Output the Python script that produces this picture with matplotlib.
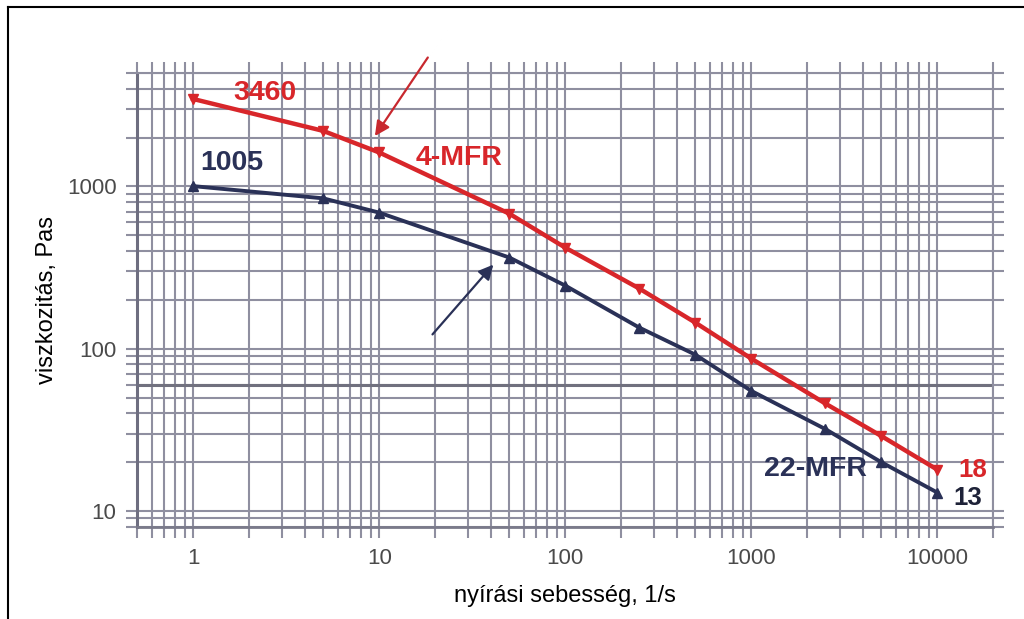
import matplotlib.pyplot as plt
from matplotlib.lines import Line2D
from matplotlib.ticker import LogLocator, NullFormatter, FixedLocator, FixedFormatter

# nyírási sebesség (1/s)
shear_rate = [1, 5, 10, 50, 100, 250, 500, 1000, 2500, 5000, 10000]
# viszkozitás (Pas)
visc_4mfr = [3460, 2200, 1620, 680, 420, 235, 145, 87, 46, 29, 18]
visc_22mfr = [1005, 845, 690, 365, 245, 135, 92, 55, 32, 20, 13]

x_ticks = [1, 10, 100, 1000, 10000]
x_tick_labels = ["1", "10", "100", "1000", "10000"]
y_ticks = [10, 100, 1000]
y_tick_labels = ["10", "100", "1000"]

red = "#d8262a"
navy = "#2a3157"
gridc = "#8f8fa0"

plt.rcParams['font.family'] = ['Liberation Sans', 'DejaVu Sans']

fig = plt.figure(figsize=(10.24, 6.19), dpi=100)
ax = fig.add_axes([0.134, 0.149, 0.836, 0.733])
ax.set_xscale('log')
ax.set_yscale('log')
ax.set_xlim(0.5, 20000)
ax.set_ylim(8, 5000)

# rács
ax.grid(which='both', color=gridc, linewidth=1.5)
ax.axhline(60, color='#70707e', linewidth=2.2, zorder=1)
ax.set_axisbelow(True)
for s in ax.spines.values():
    s.set_color(gridc)
    s.set_linewidth(1.5)
ax.spines['left'].set_color('#6e6e80')
ax.spines['left'].set_linewidth(2.2)
ax.spines['bottom'].set_color('#7a7a8a')
ax.spines['bottom'].set_linewidth(2)

ax.xaxis.set_major_locator(FixedLocator(x_ticks))
ax.xaxis.set_major_formatter(FixedFormatter(x_tick_labels))
ax.yaxis.set_major_locator(FixedLocator(y_ticks))
ax.yaxis.set_major_formatter(FixedFormatter(y_tick_labels))
ax.xaxis.set_minor_locator(LogLocator(base=10, subs=range(2, 10), numticks=20))
ax.yaxis.set_minor_locator(LogLocator(base=10, subs=range(2, 10), numticks=20))
ax.xaxis.set_minor_formatter(NullFormatter())
ax.yaxis.set_minor_formatter(NullFormatter())
ax.tick_params(which='both', direction='out', top=True, right=True,
               color=gridc, length=8, width=1.5, labelsize=16,
               labelcolor='#4a4a4a', pad=7)

# Görbék
ax.plot(shear_rate, visc_4mfr, color=red, linewidth=3.2, marker='v',
        markersize=6.5, zorder=4)
ax.plot(shear_rate, visc_22mfr, color=navy, linewidth=2.8, marker='^',
        markersize=6.5, zorder=4)

# Nyilak
ax.annotate('', xy=(9.3, 1980), xytext=(18.6, 6440),
            arrowprops=dict(arrowstyle='-|>', color='#c8282e', lw=1.6,
                            mutation_scale=22),
            annotation_clip=False, zorder=5)
ax.annotate('', xy=(42, 340), xytext=(18.9, 119),
            arrowprops=dict(arrowstyle='-|>', color=navy, lw=1.6,
                            mutation_scale=22),
            annotation_clip=False, zorder=5)

# Feliratok
fs = 20.5
ax.text(2.42, 3750, "3460", color=red, fontsize=fs, fontweight='bold',
        ha='center', va='center')
ax.text(27, 1490, "4-MFR", color=red, fontsize=fs, fontweight='bold',
        ha='center', va='center')
ax.text(1.62, 1390, "1005", color=navy, fontsize=fs, fontweight='bold',
        ha='center', va='center')
ax.text(2220, 18.2, "22-MFR", color=navy, fontsize=fs, fontweight='bold',
        ha='center', va='center')
ax.text(15460, 18.0, "18", color=red, fontsize=18.5, fontweight='bold',
        ha='center', va='center', clip_on=False)
ax.text(14500, 12.1, "13", color='#1e2238', fontsize=18.5, fontweight='bold',
        ha='center', va='center', clip_on=False)

ax.set_xlabel("nyírási sebesség, 1/s", fontsize=17, labelpad=12)
ax.set_ylabel("viszkozitás, Pas", fontsize=17, labelpad=6)

# keret
fig.add_artist(Line2D([8 / 1024, 1], [1 - 7 / 619, 1 - 7 / 619],
                      color='black', linewidth=1.5))
fig.add_artist(Line2D([8 / 1024, 8 / 1024], [0, 1 - 7 / 619],
                      color='black', linewidth=1.5))

plt.savefig("out.png", dpi=100)
